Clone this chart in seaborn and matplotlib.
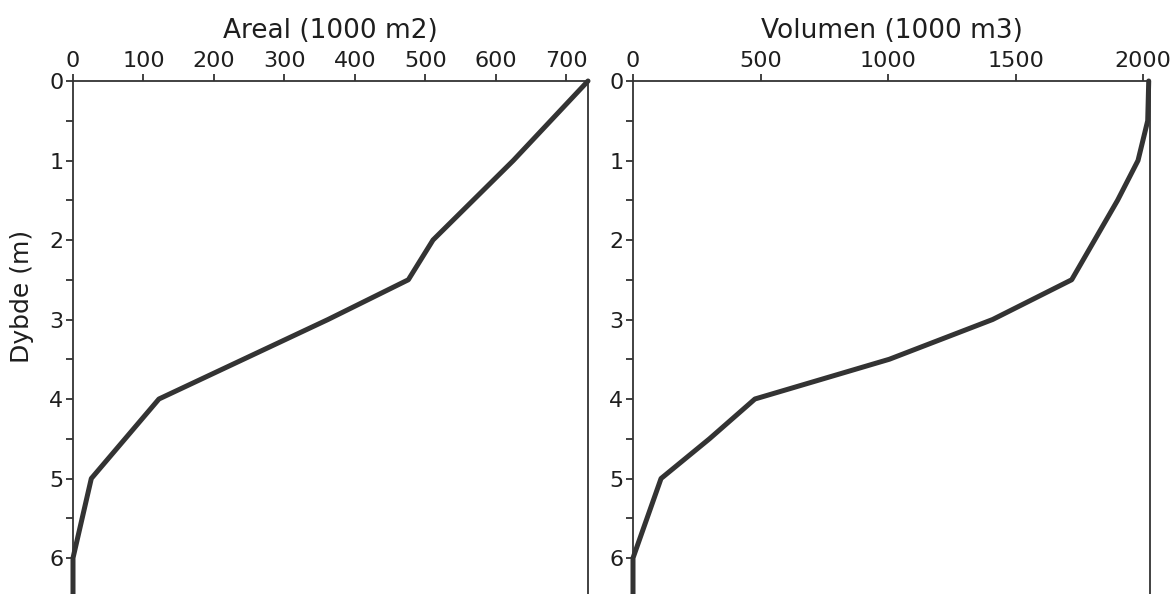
import numpy as np
import matplotlib
matplotlib.use("Agg")
import matplotlib.pyplot as plt
import seaborn as sns

# depth / area / volume
# (curve runs on down along the zero line past 6 m to the crop edge)
dybde_areal = [0, 1, 2, 2.5, 3, 3.5, 4, 5, 6, 6.6]
areal = [731, 625, 511, 476, 362, 242, 122, 26, 0, 0]

dybde_vol = [0, 0.5, 1, 1.5, 2, 2.5, 3, 3.5, 4, 4.5, 5, 6, 6.6]
volumen = [2022, 2018, 1980, 1900, 1810, 1720, 1410, 1005, 478, 300, 110, 0, 0]

areal_ticks = [0, 100, 200, 300, 400, 500, 600, 700]
vol_ticks = [0, 500, 1000, 1500, 2000]
depth_ticks = [0, 1, 2, 3, 4, 5, 6]

sns.set_style("white")
plt.rcParams['font.family'] = ['DejaVu Sans']

W, H = 1173, 594
fig = plt.figure(figsize=(W / 100, H / 100), dpi=100)

ytop = 81
ymax = (H - ytop) / 79.5
ax1 = fig.add_axes([73 / W, 0, (588 - 73) / W, (H - ytop) / H])
ax2 = fig.add_axes([633 / W, 0, (1150 - 633) / W, (H - ytop) / H])

lc = '#333333'
tc = '#1e1e1e'


def style(ax, xmax, xticks, title):
    ax.set_xlim(0, xmax)
    ax.set_ylim(ymax, 0)
    ax.xaxis.tick_top()
    ax.set_xticks(xticks)
    ax.set_yticks(depth_ticks)
    ax.set_yticks(np.arange(0.5, 6.5, 1.0), minor=True)
    ax.tick_params(axis='x', which='major', direction='out', length=5, width=1.3,
                   color=lc, labelsize=16, pad=2, labelcolor=tc)
    ax.tick_params(axis='y', which='both', direction='out', length=5, width=1.3,
                   color=lc, labelsize=16, pad=2, labelcolor=tc)
    ax.tick_params(axis='y', which='both', left=True)
    ax.tick_params(axis='x', top=True, bottom=False)
    for s in ['top', 'left', 'right']:
        ax.spines[s].set_visible(True)
        ax.spines[s].set_color(lc)
        ax.spines[s].set_linewidth(1.3)
    ax.spines['bottom'].set_visible(False)
    ax.set_xlabel('')
    ax.set_ylabel('')
    # axis title above the top tick labels
    ax.text(0.5, (H - 38) / (H - ytop), title, transform=ax.transAxes,
            ha='center', va='baseline', fontsize=19, color=tc)
    ax.grid(False)


sns.lineplot(x=areal, y=dybde_areal, sort=False, estimator=None, ax=ax1,
             color=lc, linewidth=3.6, clip_on=False)
sns.lineplot(x=volumen, y=dybde_vol, sort=False, estimator=None, ax=ax2,
             color=lc, linewidth=3.6, clip_on=False)

style(ax1, 731, areal_ticks, 'Areal (1000 m2)')
style(ax2, 2027, vol_ticks, 'Volumen (1000 m3)')
ax1.set_ylabel('Dybde (m)', fontsize=18, color=tc)
ax1.yaxis.set_label_coords(-0.075, 0.58)

fig.savefig('out.png', dpi=100, facecolor='white')
